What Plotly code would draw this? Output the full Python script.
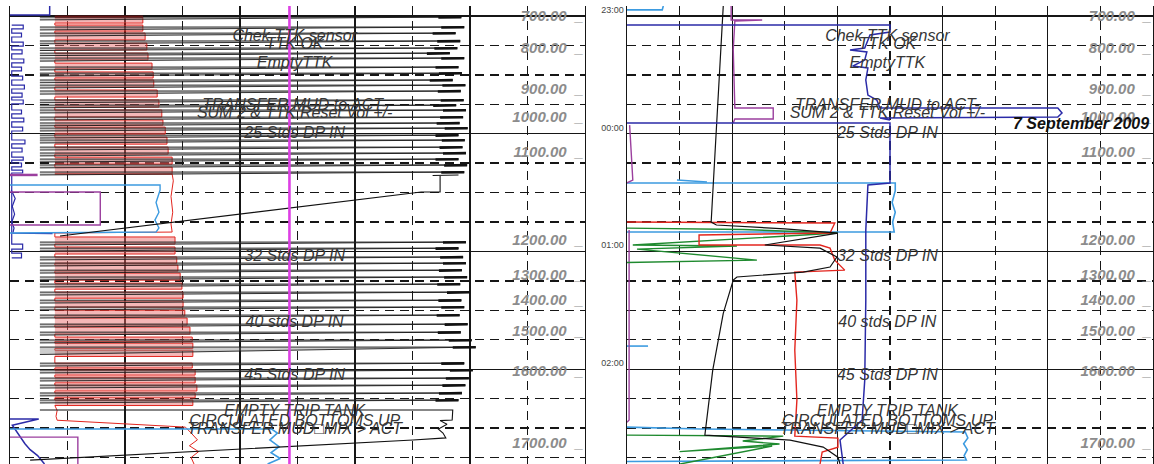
import plotly.graph_objects as go

# ---------------- time axis (minutes after 23:00, 6 Sep 2009) ----------------
hour_ticks = [0, 60, 120, 180]
hour_labels = ["23:00", "00:00", "01:00", "02:00"]
t_top, t_bottom = -5.1, 228.3

# ---------------- depth markers ----------------
depth_labels = ["700.00", "800.00", "900.00", "1000.00", "1100.00", "1200.00",
                "1300.00", "1400.00", "1500.00", "1600.00", "1700.00"]
depth_times = [0.5, 16.8, 37.7, 52.0, 69.8, 114.7, 132.5, 145.3, 161.1, 181.4, 218.1]

# ---------------- remarks ----------------
remark_texts = ["Chek TTK sensor", "TTK OK", "EmptyTTK", "TRANSFER MUD to ACT-",
                "SUM 2 & TTK Reset Vol +/-", "25 Stds DP IN", "32 Stds DP IN",
                "40 stds DP IN", "45 Stds DP IN", "EMPTY TRIP TANK",
                "CIRCULATED BOTTOMS UP", "TRANSFER MUD\u25a1MIX > ACT"]
remark_times = [10.7, 14.8, 24.5, 45.9, 50.0, 60.2, 122.8, 156.5, 183.5, 201.8, 207.0, 211.0]
date_text = "7 September 2009"
date_time = 55.0

# ================= LEFT TRACK =================
# trip tank spikes (black): time of fill, time of return, peak value
trip_base = 5.2
spike_out_t = [0.5, 5.6, 8.7, 12.7, 16.3, 18.9, 21.4, 26.0, 29.1, 32.6, 35.2, 38.2, 42.8,
               45.4, 47.9, 51.5, 54.5, 57.1, 60.7, 63.2, 66.8, 69.8, 72.9, 75.9, 79.5,
               115.2, 118.3, 122.8, 125.9, 129.5, 133.0, 136.6, 140.7, 144.8, 148.3,
               152.4, 157.0, 161.1, 165.1, 168.7, 176.9, 180.4, 184.5, 188.1, 192.1, 195.7]
spike_back_t = [2.0, 7.1, 10.2, 14.2, 17.6, 20.2, 23.0, 27.5, 30.6, 34.0, 36.7, 39.8, 44.2,
                46.8, 49.4, 53.0, 56.0, 58.6, 62.2, 64.7, 68.3, 71.3, 74.4, 77.4, 81.0,
                116.7, 119.8, 124.3, 127.4, 131.0, 134.5, 138.1, 142.2, 146.3, 149.8,
                153.9, 158.5, 162.6, 166.6, 172.5, 178.4, 181.9, 186.0, 189.6, 193.6, 197.2]
spike_tip = [78.5, 79.0, 77.5, 78.3, 77.8, 76.5, 79.0, 78.0, 78.6, 77.0, 79.2, 78.4, 78.9,
             77.6, 79.3, 78.8, 78.2, 79.6, 78.0, 79.1, 78.7, 79.3, 78.0, 79.5, 79.0,
             79.3, 78.0, 78.8, 79.3, 78.6, 79.5, 78.3, 80.0, 78.5, 79.0,
             78.2, 79.6, 78.4, 80.3, 81.0, 79.0, 80.5, 79.8, 79.2, 78.6, 78.0]

# red pit volume cycles
red_base = 7.8
red_top_t = [0.5, 4.6, 8.7, 13.8, 18.9, 24.0, 28.5, 32.6, 37.7, 42.8, 47.9, 53.0, 56.6,
             61.7, 66.8, 71.9, 77.0]
red_bot_t = [3.6, 7.7, 12.2, 17.3, 22.4, 27.0, 31.6, 36.2, 41.3, 46.4, 51.5, 55.6, 60.2,
             65.3, 70.4, 75.5, 80.5]
red_right = [23.1, 23.1, 23.5, 23.8, 24.0, 24.7, 24.9, 25.0, 25.6, 25.9, 26.4, 26.6, 27.0,
             27.3, 27.5, 28.2, 28.2]
red_mid_x = [28.2, 28.4, 28.0, 28.3, 28.0, 28.2, 7.8]
red_mid_t = [80.5, 84.0, 92.0, 100.0, 106.0, 110.1, 110.6]
red2_top_t = [112.6, 117.7, 122.8, 126.9, 131.0, 136.1, 140.7, 145.3, 149.9, 153.9, 158.5,
              163.6, 166.7, 170.3, 176.9, 180.4, 184.0, 188.1, 192.1, 195.7]
red2_bot_t = [116.2, 121.3, 126.0, 130.0, 134.6, 139.2, 143.8, 148.4, 152.9, 157.5, 162.1,
              165.9, 169.5, 173.5, 179.4, 183.0, 187.0, 191.1, 194.6, 198.5]
red2_right = [28.7, 28.7, 29.0, 29.2, 29.6, 29.9, 30.1, 30.1, 30.4, 30.8, 31.3, 31.7, 31.8,
              31.8, 31.7, 32.2, 32.2, 32.5, 32.2, 31.8]
red_end_x = [7.8, 8.2, 8.0, 8.2, 30.5, 31.5, 32.6, 31.2, 32.8, 31.5, 32.0]
red_end_t = [198.5, 201.0, 204.0, 206.0, 209.5, 212.5, 216.0, 219.0, 222.0, 225.0, 228.3]

# dark blue comb
db_base = 0.3
db_top_t = [4.6, 8.7, 13.3, 17.3, 21.9, 26.0, 30.6, 35.2, 39.3, 42.8, 47.9, 52.0, 56.6,
            63.2, 67.3, 71.9, 74.9, 78.5, 116.2, 120.8]
db_bot_t = [6.6, 10.7, 15.3, 19.3, 23.9, 28.0, 32.6, 37.2, 41.3, 44.8, 49.9, 54.0, 58.6,
            65.2, 69.3, 73.4, 76.9, 80.0, 118.8, 123.3]
db_width = [2.3, 2.0, 2.3, 2.1, 2.4, 2.0, 2.2, 2.5, 2.1, 2.3, 2.0, 2.4, 2.2, 2.6, 2.1,
            2.3, 2.0, 2.2, 2.2, 2.0]
db_head_x = [0.0, 6.9, 6.9]
db_head_t = [-0.5, -0.5, -5.1]
db_mid_x = [0.2, 0.9, 0.4, 0.8, 0.3, 0.7, 0.5, 7.4]
db_mid_t = [88.5, 93.0, 97.0, 101.0, 105.0, 108.0, 110.6, 110.9]
db_end_x = [0.0, 5.0, 0.4, 1.2, 1.8, 2.6, 3.5, 4.8, 6.0]
db_end_t = [205.4, 205.4, 208.5, 212.0, 215.0, 218.0, 221.0, 224.0, 228.3]

# light blue
lb_mid_x = [0.0, 26.1, 26.1, 25.4, 25.9, 25.2, 25.9, 25.4, 0.0]
lb_mid_t = [86.1, 86.1, 88.7, 95.0, 100.0, 104.0, 108.0, 110.1, 110.6]
lb_end_x = [0.0, 45.5, 46.5, 45.2, 46.8, 45.4, 47.0, 44.8]
lb_end_t = [210.5, 210.5, 212.5, 216.0, 219.5, 222.5, 225.5, 228.3]

# purple
pu_a_x = [0.0, 4.8]
pu_a_t = [81.0, 81.0]
pu_b_x = [0.0, 15.7, 15.7, 0.0]
pu_b_t = [89.7, 89.7, 106.5, 106.5]
pu_c_x = [0.0, 11.8, 11.8]
pu_c_t = [214.6, 214.6, 228.3]

# black: tank transfer / circulation
bk_mid_x = [78.0, 74.8, 73.5, 76.5, 74.8, 74.8, 71.5, 8.7]
bk_mid_t = [81.0, 81.3, 81.3, 81.3, 81.3, 89.7, 89.7, 112.1]
bk_end_x = [5.2, 77.0, 76.9, 74.8, 76.0, 74.5, 75.3, 75.8, 70.1, 3.5]
bk_end_t = [200.8, 200.8, 205.9, 206.2, 208.0, 210.5, 212.5, 215.0, 216.1, 226.3]

# magenta constant curve
mg_x = [48.6, 48.6]
mg_t = [t_top, t_bottom]

# ================= RIGHT TRACK =================
r_black_x = [18.3, 16.0, 17.0, 30.0, 40.1, 26.2, 36.7, 39.9, 38.6, 33.5, 20.9, 20.2,
             18.3, 16.3, 14.8, 24.7, 31.0, 37.3, 40.1, 40.5]
r_black_t = [-5.1, 105.0, 106.5, 108.5, 110.6, 116.7, 118.3, 122.8, 127.9, 130.5, 133.0,
             134.6, 151.5, 180.5, 213.6, 215.1, 216.1, 219.7, 224.8, 228.3]
r_red_x = [0.0, 39.5, 38.6, 13.7, 13.7, 36.7, 38.6, 39.5, 41.4, 31.9, 32.3, 31.9, 32.3,
           31.9, 40.1, 40.1, 37.1, 36.7]
r_red_t = [105.0, 105.5, 110.6, 111.6, 116.7, 116.7, 118.3, 124.4, 129.5, 130.5, 144.8,
           170.3, 195.7, 214.1, 215.1, 219.7, 222.2, 228.3]
r_green_x = [0.0, 22.0, 40.0, 1.1, 20.9, 1.9, 24.7, 1.9, 0.0, None,
             0.0, 29.7, 22.0, 29.0, 10.0, 27.6, 10.1]
r_green_t = [108.1, 108.8, 110.6, 116.7, 117.2, 118.8, 124.4, 125.4, 125.6, None,
             213.6, 214.1, 216.6, 218.1, 222.0, 219.2, 228.3]
r_blue_x = [0.0, 50.0, 50.0, 46.2, 45.2, 42.4, 45.6, 45.2, 42.9, 45.8, 45.4, 45.8, 47.5,
            48.1, 81.9, 82.7, 81.9, 48.1, 50.0, None,
            0.0, 50.0, 50.0, 45.8, 45.4, 45.4, 45.2, 44.7, 40.5, 41.1]
r_blue_t = [4.6, 4.6, 8.2, 9.7, 16.3, 17.3, 18.3, 22.4, 25.5, 26.5, 32.6, 40.3, 42.8,
            46.9, 46.9, 49.4, 51.5, 52.0, 53.0, None,
            54.5, 54.5, 85.1, 86.1, 109.1, 144.8, 185.5, 205.9, 216.1, 228.3]
r_lblue_x = [0.0, 6.7, 6.9, None,
             0.0, 51.0, 51.0, 50.4, 51.0, 50.5, 50.8, 0.0, None,
             9.5, 15.2, None,
             0.0, 4.0, None,
             0.0, 14.0, 64.3, 64.8, 64.0, 64.7, 64.1, 64.5, 0.0]
r_lblue_t = [-3.1, -3.1, -5.1, None,
             85.1, 85.1, 89.0, 95.0, 100.0, 105.0, 110.1, 110.1, None,
             83.6, 84.6, None,
             168.2, 168.2, None,
             209.5, 210.5, 212.0, 215.0, 218.0, 221.0, 224.0, 226.3, 227.0]
r_purple_x = [19.8, 19.8, 25.7, 20.5, 20.2, 20.5, 27.8, 27.8, 20.5, 20.2, None,
              0.5, 1.1, 0.0, None, 0.4, 0.4, 0.0]
r_purple_t = [-5.1, 2.0, 2.0, 2.6, 17.3, 46.9, 46.9, 52.5, 52.5, 54.5, None,
              55.6, 83.6, 85.0, None, 109.0, 205.9, 207.0]

# ---------------- colours ----------------
C_RED = "#e3261f"
C_DRED = "#a81414"
C_PINK = "rgba(232,105,105,0.48)"
C_DBLUE = "#2b2ba8"
C_LBLUE = "#3d9be0"
C_PURPLE = "#9b3f9e"
C_MAG = "#dd40e4"
C_GREEN = "#1f8a2f"
FONT = "Liberation Sans, Arial, sans-serif"

fig = go.Figure()


def line(x, y, color, width=1.3, xa="x", ya="y", **kw):
    fig.add_trace(go.Scatter(x=x, y=y, mode="lines", xaxis=xa, yaxis=ya,
                             line=dict(color=color, width=width), hoverinfo="skip", **kw))


# ---- left track ----
fx, fy, rx, ry = [], [], [], []
for top, bot, r in zip(red_top_t, red_bot_t, red_right):
    fx += [red_base, r, r, red_base, None]
    fy += [top, top, bot, bot, None]
    rx += [red_base, r, r, red_base]
    ry += [top, top, bot, bot]
rx += red_mid_x
ry += red_mid_t
for top, bot, r in zip(red2_top_t, red2_bot_t, red2_right):
    fx += [red_base, r, r, red_base, None]
    fy += [top, top, bot, bot, None]
    rx += [red_base, r, r, red_base]
    ry += [top, top, bot, bot]
rx += red_end_x
ry += red_end_t
fig.add_trace(go.Scatter(x=fx, y=fy, mode="lines", fill="toself", fillcolor=C_PINK,
                         line=dict(width=0, color=C_PINK), hoverinfo="skip"))
line(rx, ry, C_RED, 1.0)
line([red_base, red_right[0]], [red_top_t[0], red_top_t[0]], C_DRED, 2.5)

bx, by = [], []
for top, bot, w in zip(db_top_t, db_bot_t, db_width):
    bx += [db_base, w, w, db_base]
    by += [top, top, bot, bot]
line(bx, by, C_DBLUE, 1.2)
line(db_head_x, db_head_t, C_DBLUE, 1.5)
line(db_mid_x, db_mid_t, C_DBLUE, 1.2)
line(db_end_x, db_end_t, C_DBLUE, 1.5)

line(lb_mid_x, lb_mid_t, C_LBLUE, 1.4)
line(lb_end_x, lb_end_t, C_LBLUE, 1.6)
line(pu_a_x, pu_a_t, C_PURPLE, 2.5)
line(pu_b_x, pu_b_t, C_PURPLE, 1.4)
line(pu_c_x, pu_c_t, C_PURPLE, 1.4)

sx, sy, ax, ay = [], [], [], []
for o, b, tip in zip(spike_out_t, spike_back_t, spike_tip):
    sx += [trip_base, tip, trip_base, None]
    sy += [o, o, b, None]
    ax += [tip - 4.0, tip, None]
    ay += [o + 0.25, o + 0.1, None]
fig.add_trace(go.Scatter(x=sx, y=sy, mode="lines", fill="toself",
                         fillcolor="rgba(120,120,120,0.38)",
                         line=dict(color="#1a1a1a", width=0.9), hoverinfo="skip"))
line(ax, ay, "#111111", 2.6)
line(bk_mid_x, bk_mid_t, "#111111", 1.1)
line(bk_end_x, bk_end_t, "#111111", 1.1)
line(mg_x, mg_t, C_MAG, 2.6)

# ---- right track ----
line(r_lblue_x, r_lblue_t, C_LBLUE, 1.6, "x2", "y2")
line(r_purple_x, r_purple_t, C_PURPLE, 1.4, "x2", "y2")
line(r_green_x, r_green_t, C_GREEN, 1.4, "x2", "y2")
line(r_red_x, r_red_t, C_RED, 1.4, "x2", "y2")
line(r_black_x, r_black_t, "#111111", 1.2, "x2", "y2")
line(r_blue_x, r_blue_t, C_DBLUE, 1.5, "x2", "y2")

# ---- text ----
for xa, ya in (("x", "y"), ("x2", "y2")):
    fig.add_trace(go.Scatter(
        x=[99.7] * len(depth_labels), y=depth_times, xaxis=xa, yaxis=ya, mode="text",
        text=[d + "\u00a0\u00a0_" for d in depth_labels], textposition="middle left",
        textfont=dict(family=FONT, size=15, color="#8c8c8c", weight="bold", style="italic"),
        hoverinfo="skip"))
    fig.add_trace(go.Scatter(
        x=[49.5] * len(remark_texts), y=remark_times, xaxis=xa, yaxis=ya, mode="text",
        text=remark_texts, textposition="middle center",
        textfont=dict(family=FONT, size=16, color="#363636", style="italic"),
        hoverinfo="skip"))

fig.add_annotation(x=99.6, y=date_time, xref="x2", yref="y2", text=date_text,
                   showarrow=False, xanchor="right", yanchor="middle",
                   font=dict(family=FONT, size=16, color="#111111", weight="bold",
                             style="italic"))

# ---------------- layout ----------------
GRID = "#161616"
xcommon = dict(range=[0, 100], tick0=0, dtick=20, showgrid=True, gridcolor=GRID,
               gridwidth=1.3, showticklabels=False, ticks="", zeroline=False,
               showline=False, fixedrange=True,
               minor=dict(tick0=0, dtick=10, showgrid=True, gridcolor=GRID,
                          gridwidth=1.4, griddash="9px,6px", ticks=""))
ycommon = dict(range=[t_bottom, t_top], showgrid=True, gridcolor=GRID,
               gridwidth=1.3, ticks="", zeroline=False, showline=True, mirror=True,
               linecolor=GRID, linewidth=1.4, fixedrange=True,
               minor=dict(tick0=0, dtick=15, showgrid=True, gridcolor=GRID,
                          gridwidth=1.4, griddash="9px,6px", ticks=""))

fig.update_layout(
    width=1154, height=464, autosize=False,
    margin=dict(l=0, r=0, t=6, b=0, pad=0),
    paper_bgcolor="white", plot_bgcolor="white", showlegend=False,
    xaxis=dict(domain=[10 / 1154, 585 / 1154], anchor="y", **xcommon),
    yaxis=dict(anchor="x", showticklabels=False, tickmode="array",
               tickvals=hour_ticks, **ycommon),
    xaxis2=dict(domain=[627 / 1154, 1153 / 1154], anchor="y2", **xcommon),
    yaxis2=dict(anchor="x2", showticklabels=True, tickmode="array",
                tickvals=hour_ticks, ticktext=hour_labels,
                ticklabelposition="outside top",
                tickfont=dict(family=FONT, size=9, color="#444444"), **ycommon),
)

fig.write_html("out.html", config={"displayModeBar": False, "staticPlot": True},
               post_script="document.body.style.margin='0px';"
                           "document.body.style.overflow='hidden';")
